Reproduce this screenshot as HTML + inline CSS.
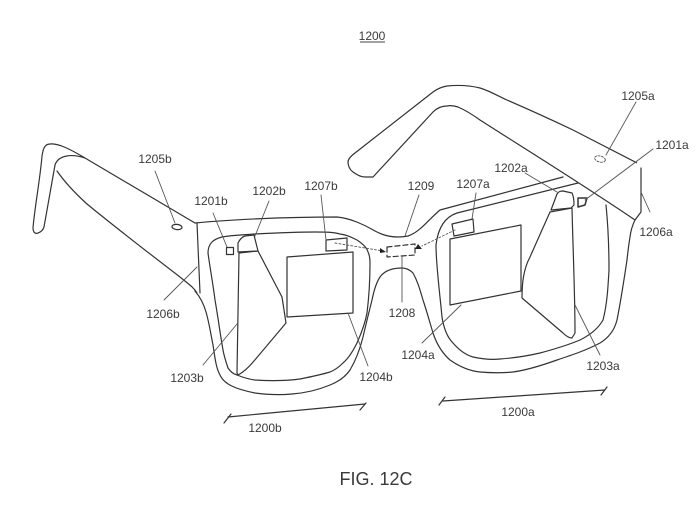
<!DOCTYPE html>
<html><head><meta charset="utf-8">
<style>html,body{margin:0;padding:0;background:#fff;width:700px;height:532px;overflow:hidden}
svg{display:block}
text{font-family:"Liberation Sans",sans-serif;font-size:12px;fill:#3a3a3a;text-anchor:middle}
.l{fill:none;stroke:#333;stroke-width:1.2;stroke-linecap:round;stroke-linejoin:round}
.t{fill:none;stroke:#555;stroke-width:.9;stroke-linecap:round}
.w{fill:#fff;stroke:#333;stroke-width:1.2;stroke-linejoin:round}
</style></head><body>
<svg width="700" height="532" viewBox="0 0 700 532" xmlns="http://www.w3.org/2000/svg">
<!-- left temple -->
<path class="l" d="M195 223 L85 158 C70 149 58 143 50 144 C44 144 43 150 42 156 C40 180 35 205 33 228 C33 233 36 234 38 233 C41 232 43 230 44 227 L55 165 C58 156 70 153 85 158"/>
<path class="l" d="M57 171 C66 184 76 194 87 204 C115 227 150 254 180 277 C190 285 194 288 197 293"/>
<path class="l" d="M197 223 L200 293"/>
<!-- frame outer -->
<path class="l" d="M195 291 C201 298 204 305 206 312 C209 322 211 335 213 345 C215 358 216 368 220 375 C224 384 235 389 255 393 C270 395 282 395 292 394 C305 393 318 390 330 385 C340 381 346 376 350 370 C356 360 360 349 363 337 C366 324 369 312 372 300 C374 290 376 283 380 277 C385 270 393 268 402 268 C407 268 410 270 413 273 C418 282 420 290 423 300 C427 312 430 323 433 333 C437 345 442 353 450 360 C460 367 470 371 480 372 C492 373 503 373 513 372 C528 370 543 365 557 360 C572 355 587 350 600 343 C610 337 615 328 617 320 C621 300 624 280 627 260 C628 250 629 243 630 237 C631 229 633 224 635 220"/>
<path class="l" d="M195 223 C225 220 280 217 337 217 C350 218 365 225 375 231 C386 237 398 238 408 236 C420 232 428 220 440 210 L563 177"/>
<!-- left lens inner -->
<path class="l" d="M315 232 C325 232 333 232 340 234 C348 235 353 238 357 240 C363 244 367 248 368 252 C370 256 370 260 370 263 C370 280 369 297 367 313 C365 324 361 334 357 343 C353 351 349 358 343 363 C339 367 335 370 330 372 C320 375 310 377 300 379 C285 381 270 381 255 380 C247 379 242 377 237 375 C233 374 230 371 228 368 C226 362 224 356 223 350 C220 333 218 317 215 300 C213 284 210 268 208 253 C208 248 209 245 212 242 C215 239 218 238 222 237 C233 235 244 235 255 234 C275 233 295 232 315 232Z"/>
<!-- right lens inner -->
<path class="l" d="M578 183 L457 213 C445 217 438 228 436 245 C436 265 440 295 442 317 C444 330 448 338 453 343 C459 350 466 355 473 357 C482 359 491 360 500 359 C514 358 527 356 540 353 C555 349 568 345 580 340 C590 335 598 329 603 320 C607 305 608 288 609 270 C609 250 608 225 606 205"/>
<!-- right temple -->
<path class="w" d="M637 163 C612 150 592 140 573 130 C552 120 530 110 507 100 C498 96 490 91 480 88 C468 85 457 85 447 86 C441 87 437 89 433 92 L355 153 C351 156 348 159 348 162 C348 166 350 170 353 172 C357 175 361 177 365 177 L373 177 L433 112 C437 108 442 106 447 106 C451 105 455 106 458 107 C465 110 473 115 480 120 C530 152 585 186 635 220"/>
<path class="l" d="M641 168 L641 212 L635 220"/>
<!-- right parts -->
<path class="w" d="M450 239 L521 225 L521 291 L450 305Z"/>
<path class="w" d="M452 224 L473 219 L474 232 L454 236Z"/>
<path class="w" d="M550 212 L572 208 C573 250 575 295 575 333 L572 338 C568 338 565 335 563 333 L522 298 C522 285 523 270 530 257Z"/>
<path class="w" d="M551 210 L557 194 C559 191 561 191 563 191 L572 193 C574 197 574 201 574 205 L571 208Z"/>
<path class="w" style="stroke-width:1.5" d="M578 198 L587 198 L585 205 L578 207Z"/>
<!-- left parts -->
<path class="w" d="M287 257 L353 252 L353 313 L287 317Z"/>
<path class="w" d="M326 240 L347 238 L347 250 L326 251Z"/>
<path class="w" d="M239 253 L258 251 L282 297 L286 323 L254 361 C249 367 244 372 238 375 L237 373Z"/>
<path class="w" d="M238 252 L238 243 C240 239 242 237 245 236 L254 235 L258 251Z"/>
<rect class="w" x="226.500" y="247.500" width="7" height="7" stroke-width="1.5"/>
<!-- dashed -->
<path class="l" stroke-dasharray="5 3" d="M387 247 L415 244 L415 255 L387 257Z"/>
<ellipse cx="600" cy="159" rx="5.5" ry="3" transform="rotate(15 600 159)" class="t" stroke-dasharray="2 1.5"/>
<ellipse cx="177" cy="227" rx="5" ry="2.6" transform="rotate(5 177 227)" class="l"/>
<path class="t" stroke-dasharray="2 2" d="M335 243 L380 250.500"/>
<path d="M386 252 L380 248 L380 253Z" fill="#222"/>
<path class="t" stroke-dasharray="2 2" d="M455 230 L422 246"/>
<path d="M418 244 L415 249 L422 249Z" fill="#222"/>
<!-- leaders -->
<g class="t">
<path d="M155 171 L175 223"/><path d="M213 213 L227 247"/><path d="M269 201 L255 236"/><path d="M321 195 L326 240"/>
<path d="M164 300 L197 267"/><path d="M203 365 L237 324"/><path d="M368 366 L348 313"/><path d="M402 257 L402 302"/>
<path d="M419 195 L405 236"/><path d="M476 193 L472 219"/><path d="M525 173 L557 192"/><path d="M636 102 L606 155"/>
<path d="M653 149 L585 200"/><path d="M650 212 L641 192"/><path d="M422 343 L461 305"/><path d="M600 355 L575 305"/>
</g>
<!-- range arrows -->
<g class="l" stroke-width="1">
<path d="M228 417 L365 404"/><path d="M224 423 L231 414"/><path d="M360 410 L366 403"/>
<path d="M443 401 L605 390"/><path d="M439 405 L445 397"/><path d="M601 395 L607 387"/>
</g>
<!-- text -->
<text x="372" y="40">1200</text>
<path d="M360 42 L385 42" stroke="#444" stroke-width="1"/>
<text x="155" y="163">1205b</text><text x="211" y="205">1201b</text><text x="269" y="195">1202b</text><text x="321" y="190">1207b</text>
<text x="163" y="318">1206b</text><text x="187" y="382">1203b</text><text x="376" y="381">1204b</text><text x="402" y="317">1208</text>
<text x="421" y="190">1209</text><text x="473" y="188">1207a</text><text x="511" y="172">1202a</text><text x="638" y="100">1205a</text>
<text x="672" y="149">1201a</text><text x="656" y="236">1206a</text><text x="418" y="359">1204a</text><text x="603" y="370">1203a</text>
<text x="265" y="432">1200b</text><text x="518" y="416">1200a</text>
<text x="376" y="485" style="font-size:18px">FIG. 12C</text>
</svg>
</body></html>
